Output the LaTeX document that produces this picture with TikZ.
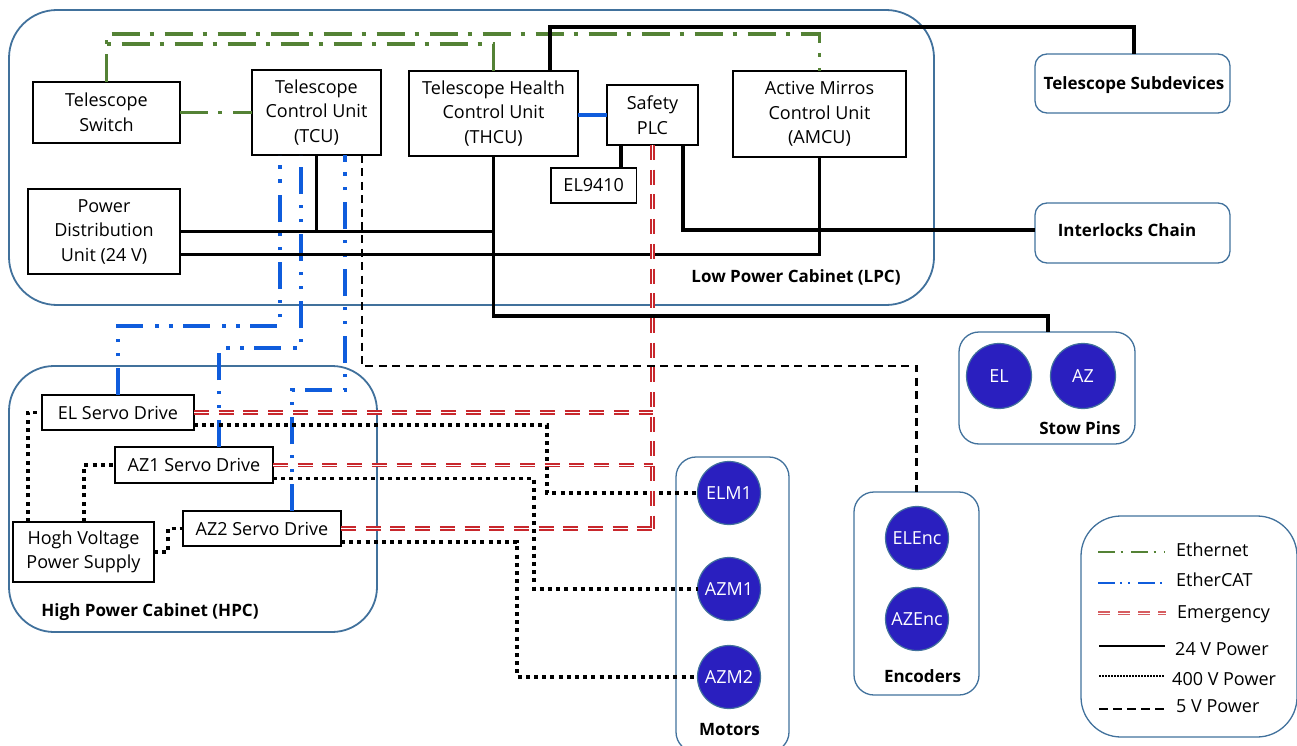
\documentclass[tikz,border=0pt]{standalone}
\usepackage{fontspec}
\setmainfont{Open Sans}
\usetikzlibrary{positioning}

\definecolor{cabinetblue}{HTML}{41719C}
\definecolor{ethgreen}{HTML}{548235}
\definecolor{ecatblue}{HTML}{0F5CDC}
\definecolor{emred}{HTML}{C8282D}
\definecolor{motorblue}{HTML}{2A1FBF}

\begin{document}
\begin{tikzpicture}[
  x=1pt, y=-1pt,
  node distance=28pt and 28pt,
  font=\fontsize{18}{24.5}\selectfont,
  box/.style={
    draw,
    line width=2pt,
    fill=white,
    inner sep=0pt,
    outer sep=0pt,
    align=center
  },
  thinbox/.style={box, line width=1.2pt},
  cabinet/.style={
    draw=cabinetblue,
    line width=1.8pt,
    rounded corners=#1,
    inner sep=0pt,
    outer sep=0pt
  },
  group/.style={cabinet=#1, line width=1.3pt},
  device/.style={
    circle,
    draw=cabinetblue,
    line width=1.2pt,
    fill=motorblue,
    text=white,
    minimum size=63pt,
    inner sep=0pt,
    outer sep=0pt
  },
  title/.style={font=\fontsize{17}{20}\selectfont\bfseries},
  legend/.style={anchor=west, inner sep=0pt},
  ethernet/.style={draw=ethgreen, line width=3.4pt, dash pattern=on 28pt off 10pt on 4pt off 11pt},
  ethercat/.style={draw=ecatblue, line width=3.4pt, dash pattern=on 27pt off 12pt on 3.5pt off 10.5pt on 3.5pt off 10.5pt},
  emergency/.style={draw=emred, line width=1.8pt, double=white, double distance=1pt, dash pattern=on 15pt off 9.7pt},
  power/.style={draw=black, line width=3.4pt},
  hvpower/.style={draw=black, line width=3.6pt, dash pattern=on 4pt off 4.2pt},
  lvpower/.style={draw=black, line width=2.2pt, dash pattern=on 8pt off 5.4pt}
]
\useasboundingbox (0,0) rectangle (1297,746);

% Cabinets and groups
\node[cabinet=48pt, minimum width=925pt, minimum height=295pt] (lpc) at (471.5,157.5) {};
\node[cabinet=45pt, minimum width=368pt, minimum height=266pt] (hpc) at (193,499) {};
\node[group=12pt, minimum width=195pt, minimum height=59pt] (sub) at (1132.5,83.5) {};
\node[group=12pt, minimum width=195pt, minimum height=60pt] (lock) at (1132.5,233) {};
\node[group=20pt, minimum width=176pt, minimum height=112pt] (stow) at (1047,388) {};
\node[group=20pt, minimum width=113pt, minimum height=295pt] (motors) at (732.5,604.5) {};
\node[group=20pt, minimum width=125pt, minimum height=203pt] (encoders) at (916.5,593.5) {};
\node[group=40pt, minimum width=216pt, minimum height=221pt] (key) at (1189,626.5) {};

% Low power cabinet
\node[box, minimum width=147pt, minimum height=61pt] (switch) at (106.5,112.5) {Telescope\\Switch};
\node[box, minimum width=129pt, minimum height=85pt, right=72pt of switch] (tcu) {Telescope\\Control Unit\\(TCU)};
\node[box, minimum width=169pt, minimum height=85pt] (thcu) at (493.5,113.5) {Telescope Health\\Control Unit\\(THCU)};
\node[box, minimum width=91pt, minimum height=60pt] (plc) at (652.5,115) {Safety\\PLC};
\node[box, minimum width=173pt, minimum height=86pt] (amcu) at (819.5,114) {Active Mirros\\Control Unit\\(AMCU)};
\node[box, minimum width=152pt, minimum height=85pt] (pdu) at (104,231.5) {Power\\Distribution\\Unit (24 V)};
\node[thinbox, minimum width=85.5pt, minimum height=35pt] (el9410) at (593.75,185.5) {EL9410};

% High power cabinet
\node[box, minimum width=152pt, minimum height=35pt] (elsd) at (118,412.5) {EL Servo Drive};
\node[box, minimum width=158pt, minimum height=36pt] (azonesd) at (194,465) {AZ1 Servo Drive};
\node[box, minimum width=158pt, minimum height=35pt] (aztwosd) at (262,528.5) {AZ2 Servo Drive};
\node[box, minimum width=141pt, minimum height=60pt] (hvps) at (83.5,552) {Hogh Voltage\\Power Supply};

% Motors, encoders, stow pins
\node[device] (elm1) at (729,493) {ELM1};
\node[device, below=33pt of elm1] (azm1) {AZM1};
\node[device, below=25pt of azm1] (azm2) {AZM2};
\node[device] (elenc) at (917,538) {ELEnc};
\node[device, below=18pt of elenc] (azenc) {AZEnc};
\node[device, minimum size=65pt] (elpin) at (999,376) {EL};
\node[device, minimum size=65pt, right=19pt of elpin] (azpin) {AZ};

% Titles
\node[title] (subtitle) at (1134,85) {Telescope Subdevices};
\node[title] (lpctitle) at (796,277) {Low Power Cabinet (LPC)};
\node[title] (hpctitle) at (150,612) {High Power Cabinet (HPC)};
\node[title] (locktitle) at (1127,230.5) {Interlocks Chain};
\node[title] (stowtitle) at (1080,428) {Stow Pins};
\node[title] (motortitle) at (729.5,730) {Motors};
\node[title] (enctitle) at (922.5,676) {Encoders};

% Ethernet
\draw[ethernet] (switch.north) -- ++(0,-38) -| (thcu.north);
\draw[ethernet] (switch.north) -- ++(0,-48) -| (amcu.north);
\draw[ethernet] (switch.east) -- (tcu.west);

% EtherCAT
\draw[ethercat] (elsd.north) -- ++(0,-69) -| ([xshift=-36.5pt]tcu.south);
\draw[ethercat] ([xshift=25pt]azonesd.north) -- ++(0,-99) -| ([xshift=-15.5pt]tcu.south);
\draw[ethercat] ([xshift=30pt]aztwosd.north) -- ++(0,-121) -| ([xshift=28.5pt]tcu.south);
\draw[ecatblue, line width=3.4pt] (thcu.east |- plc.west) -- (plc.west);

% 24 V power
\draw[power] ([xshift=56.5pt]thcu.north) -- ++(0,-44) -| ([xshift=1.5pt]sub.north);
\draw[power] (pdu.east) -- (pdu.east -| thcu.south);
\draw[power] (tcu.south) -- (tcu.south |- pdu.east);
\draw[power] ([yshift=-23pt]pdu.east) -| (amcu.south);
\draw[power] (thcu.south) -- ++(0,160) -| ([xshift=1pt]stow.north);
\draw[power] ([xshift=30.5pt]plc.south) |- ([yshift=3pt]lock.west);
\draw[power] ([xshift=-31.5pt]plc.south) -- ([xshift=27.25pt]el9410.north);

% 5 V power
\draw[lvpower] ([xshift=45.5pt]tcu.south) -- ++(0,211) -| (encoders.north);

% 400 V power
\draw[hvpower] ([yshift=-12.5pt]elsd.east) -- ++(353,0) |- (elm1.west);
\draw[hvpower] ([yshift=-13.5pt]azonesd.east) -- ++(261,0) |- (azm1.west);
\draw[hvpower] ([yshift=-13.5pt]aztwosd.east) -- ++(176,0) |- (azm2.west);
\draw[hvpower] ([xshift=-55.5pt]hvps.north) |- (elsd.west);
\draw[hvpower] ([xshift=0.5pt]hvps.north) |- (azonesd.west);
\draw[hvpower] (hvps.east) -- ++(14,0) |- (aztwosd.west);

% Emergency
\draw[emergency] (plc.south) -- (plc.south |- aztwosd.east);
\draw[emergency] (elsd.east) -- (elsd.east -| plc.south);
\draw[emergency] (azonesd.east) -- (azonesd.east -| plc.south);
\draw[emergency] (aztwosd.east) -- (aztwosd.east -| plc.south);

% Legend
\node[legend] (lgeth) at (1176,550) {Ethernet};
\node[legend] (lgcat) at (1176,580) {EtherCAT};
\node[legend] (lgem) at (1177,614) {Emergency};
\node[legend] (lgfour) at (1175,649) {24 V Power};
\node[legend] (lgfive) at (1172,679) {400 V Power};
\node[legend] (lgsix) at (1176,706) {5 V Power};
\coordinate (kethA) at (1098,552);
\coordinate (kcatA) at (1098,583);
\coordinate (kemA) at (1098,613);
\coordinate (kfourA) at (1099,646);
\coordinate (kfiveA) at (1099,676);
\coordinate (ksixA) at (1099,709);
\draw[ethgreen, line width=1.5pt, dash pattern=on 17pt off 5.5pt on 2pt off 8.5pt] (kethA) -- ++(67,0);
\draw[ecatblue, line width=1.5pt, dash pattern=on 17pt off 5pt on 2pt off 6pt on 2pt off 8pt] (kcatA) -- ++(67,0);
\draw[emred!75, line width=1.2pt, double=white, double distance=0.7pt, dash pattern=on 12pt off 8pt] (kemA) -- ++(68,0);
\draw[black, line width=2pt] (kfourA) -- ++(66,0);
\draw[black, line width=1.5pt, dash pattern=on 1.5pt off 1.5pt] (kfiveA) -- ++(66,0);
\draw[black, line width=2pt, dash pattern=on 9pt off 5pt] (ksixA) -- ++(66,0);

\end{tikzpicture}
\end{document}
